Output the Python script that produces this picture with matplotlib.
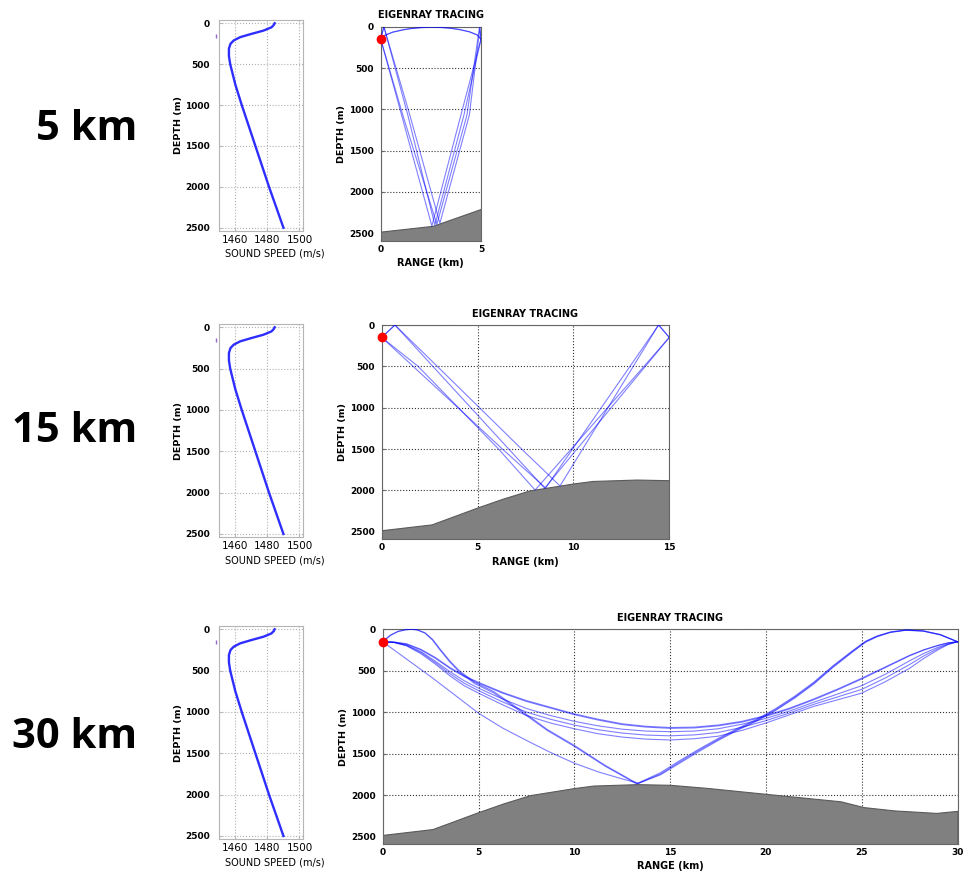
import matplotlib
matplotlib.use('Agg')
import matplotlib.pyplot as plt

W, H = 963, 876

# sound speed profile (same for all three cases)
ssp_depth = [0, 20, 50, 90, 130, 170, 210, 250, 310, 400, 500, 750, 1000, 1500, 2000, 2500]
ssp_speed = [1484.5, 1484, 1482.5, 1477.5, 1470, 1463, 1459, 1457, 1456, 1456, 1456.8, 1460, 1464, 1472.5, 1481, 1490]

# bathymetry along the 30 km track (the 5 / 15 km cases use the first part)
bathy_range = [0, 2.6, 5, 6.3, 7.7, 10, 11, 13.3, 15, 17, 20, 23.9, 25.1, 26.7, 28.9, 30]
bathy_depth = [2480, 2410, 2205, 2100, 2000, 1915, 1885, 1868, 1876, 1915, 1985, 2075, 2145, 2185, 2215, 2190]

src_depth = 150
max_range = [5, 15, 30]
panel_labels = ['5 km', '15 km', '30 km']

# eigenrays (range km, depth m)
arc5_range = [0, 0.2, 0.6, 1.1, 1.5, 2.0, 2.5, 3.0, 3.5, 3.9, 4.4, 4.8, 5.0]
rays_5km = [
    (arc5_range, [150, 108, 68, 40, 24, 12, 6, 10, 20, 35, 62, 100, 150]),
    (arc5_range, [150, 104, 64, 37, 21, 10, 5, 8, 18, 32, 58, 96, 150]),
    ([0, 1.04, 2.55, 4.0, 5.0], [150, 1068, 2412, 1068, 150]),
    ([0, 0.16, 1.35, 2.7, 4.15, 5.0], [150, 0, 1068, 2401, 1068, 150]),
    ([0, 1.1, 2.8, 4.3, 4.92, 5.0], [150, 1068, 2392, 1068, 10, 150]),
    ([0, 0.16, 1.45, 2.95, 4.42, 4.95, 5.0], [150, 0, 1068, 2379, 1068, 5, 150]),
]

rays_15km = [
    ([0, 1.9, 4.0, 6.1, 8.0, 9.88, 11.78, 13.68, 15.0],
     [150, 500, 1000, 1500, 1995, 1500, 1000, 500, 150]),
    ([0, 0.69, 2.67, 4.65, 6.63, 8.5, 10.18, 11.97, 13.75, 15.0],
     [150, 0, 500, 1000, 1500, 1972, 1500, 1000, 500, 150]),
    ([0, 1.64, 3.98, 6.3, 8.55, 9.95, 11.45, 12.95, 14.44, 15.0],
     [150, 500, 1000, 1500, 1970, 1500, 1000, 500, 0, 150]),
    ([0, 0.69, 2.9, 5.1, 7.3, 9.3, 10.48, 11.8, 13.12, 14.44, 15.0],
     [150, 0, 500, 1000, 1500, 1945, 1500, 1000, 500, 0, 150]),
]

# refracted rays through the deep channel
ref_range = [0, 0.6, 1.25, 2.0, 2.75, 3.5, 4.25, 5, 6.25, 7.5, 8.75, 10, 11.25, 12.5, 13.75,
             15, 16.25, 17.5, 18.75, 20, 21.25, 22.5, 23.75, 25, 26.25, 27.5, 28.25, 29, 29.5, 30]
ref_d1 = [150, 155, 180, 250, 350, 470, 570, 650, 770, 870, 950, 1030, 1095, 1150, 1180,
          1195, 1190, 1165, 1120, 1050, 960, 850, 730, 600, 460, 320, 250, 195, 165, 150]
ref_d2 = [150, 154, 175, 242, 340, 460, 560, 640, 760, 860, 940, 1020, 1085, 1140, 1170,
          1185, 1180, 1155, 1110, 1040, 950, 840, 720, 590, 452, 314, 246, 192, 163, 150]
ref_d3 = [150, 158, 190, 270, 385, 510, 620, 710, 840, 955, 1040, 1110, 1165, 1205, 1228,
          1235, 1228, 1200, 1145, 1075, 985, 880, 780, 680, 540, 380, 290, 215, 175, 150]
ref_d4 = [150, 159, 195, 282, 402, 535, 650, 740, 875, 998, 1085, 1155, 1212, 1252, 1276,
          1285, 1274, 1245, 1182, 1102, 1008, 905, 815, 725, 585, 425, 320, 230, 180, 150]
ref_d5 = [150, 160, 200, 295, 420, 560, 680, 770, 910, 1040, 1130, 1200, 1260, 1300, 1325,
          1335, 1320, 1290, 1220, 1130, 1030, 930, 850, 770, 630, 470, 350, 245, 185, 150]

# bottom-bounce rays touching the surface near both ends
bb_range_1 = [0, 0.4, 0.8, 1.2, 1.5, 1.8, 2.2, 2.6, 3.0, 3.5, 4.0, 4.8, 5.8, 6.6, 7.35, 8.6, 10.0, 11.6, 13.3,
              14.5, 15.5, 16.5, 17.5, 18.5, 19.5, 20.5, 21.5, 22.5, 23.5, 24.5, 25.2, 25.8, 26.5, 27.3, 28.2, 29.1, 30]
bb_depth_1 = [150, 75, 28, 6, 0, 6, 40, 120, 240, 380, 500, 640, 752, 880, 1000, 1210, 1400, 1640, 1862,
              1745, 1600, 1460, 1330, 1210, 1100, 970, 820, 650, 450, 270, 150, 85, 35, 10, 20, 65, 150]
bb_range_2 = [0, 0.4, 0.8, 1.2, 1.5, 1.8, 2.2, 2.6, 3.0, 3.5, 4.0, 4.8, 5.8, 6.6, 7.35, 8.6, 10.0, 11.6, 13.25,
              14.5, 15.5, 16.5, 17.5, 18.5, 19.5, 20.5, 21.5, 22.5, 23.5, 24.5, 25.2, 25.8, 26.5, 27.3, 28.2, 29.1, 30]
bb_depth_2 = [150, 70, 24, 4, 0, 8, 46, 130, 252, 394, 515, 655, 768, 895, 1015, 1222, 1412, 1650, 1864,
              1730, 1585, 1447, 1318, 1198, 1088, 958, 808, 638, 440, 262, 144, 80, 32, 8, 18, 62, 150]
# bottom-bounce ray leaving the source downward
bb_range_3 = [0, 1.25, 2.5, 3.75, 5, 6.25, 7.5, 8.75, 10, 11.25, 12.5, 13.35,
              14.5, 15.5, 16.5, 17.5, 18.5, 19.5, 20.5, 21.5, 22.5, 23.5, 24.5, 25.2, 25.8, 26.5, 27.3, 28.2, 29.1, 30]
bb_depth_3 = [150, 360, 570, 790, 1012, 1190, 1340, 1485, 1615, 1720, 1805, 1858,
              1755, 1615, 1475, 1342, 1220, 1110, 980, 830, 660, 460, 278, 156, 90, 38, 12, 22, 68, 150]

rays_30km = [
    (ref_range, ref_d1), (ref_range, ref_d2), (ref_range, ref_d3),
    (ref_range, ref_d4), (ref_range, ref_d5),
    (bb_range_1, bb_depth_1), (bb_range_2, bb_depth_2), (bb_range_3, bb_depth_3),
]
all_rays = [rays_5km, rays_15km, rays_30km]

# axes boxes in pixels: left, top, right, bottom
ssp_boxes = [(219.3, 20, 302.7, 231), (219.3, 324, 302.7, 537.3), (219.3, 626, 302.7, 839.3)]
ray_boxes = [(380.7, 26.7, 481, 240.7), (381.7, 325, 669.3, 539.3), (382.7, 629.3, 957.5, 844)]
label_y = [130, 432, 737]


def px_box(l, t, r, b):
    return [l / W, 1 - b / H, (r - l) / W, (b - t) / H]


fig = plt.figure(figsize=(W / 100, H / 100), dpi=100)

for i in range(3):
    # big case label
    fig.text(137 / W, 1 - label_y[i] / H, panel_labels[i], ha='right', va='center',
             fontsize=30, fontweight='bold', family=['Open Sans', 'DejaVu Sans'])

    # sound speed profile
    ax = fig.add_axes(px_box(*ssp_boxes[i]))
    ax.plot(ssp_speed, ssp_depth, color='#2e2eff', lw=1.7)
    ax.plot([1448], [src_depth], marker='|', ms=3, color='#9966cc', clip_on=False)
    ax.set_xlim(1450, 1502)
    ax.set_ylim(2540, -40)
    ax.set_xticks([1460, 1480, 1500])
    ax.set_yticks([0, 500, 1000, 1500, 2000, 2500])
    ax.grid(True, color='#b0b0b0', ls=':', lw=0.8)
    ax.set_axisbelow(True)
    for s in ax.spines.values():
        s.set_color('#b5b5b5')
    ax.tick_params(direction='in', length=2, color='#b5b5b5')
    ax.tick_params(axis='y', pad=7, labelsize=6.5)
    ax.tick_params(axis='x', pad=3, labelsize=7.5)
    for t in ax.get_yticklabels():
        t.set_fontweight('bold')
    ax.set_ylabel('DEPTH (m)', fontsize=6.8, fontweight='bold', labelpad=1)
    ax.set_xlabel('SOUND SPEED (m/s)', fontsize=7)
    ax.xaxis.set_label_coords(0.66, -0.085)

    # eigenray tracing
    ax = fig.add_axes(px_box(*ray_boxes[i]))
    ax.fill_between(bathy_range, bathy_depth, 2600, facecolor='#808080',
                    edgecolor='#5a5a5a', lw=0.8, zorder=2)
    for rr, dd in all_rays[i]:
        ax.plot(rr, dd, color='#0000ff', lw=0.8, alpha=0.5, zorder=3)
    ax.plot([0], [src_depth], 'o', color='#ff0000', ms=6, clip_on=False, zorder=5)
    ax.set_xlim(0, max_range[i])
    ax.set_ylim(2590, 0)
    ax.set_xticks(list(range(0, max_range[i] + 1, 5)))
    ax.set_yticks([0, 500, 1000, 1500, 2000, 2500])
    ax.grid(True, color='#333333', ls=':', lw=0.8)
    ax.set_axisbelow(True)
    for s in ax.spines.values():
        s.set_color('#666666')
    ax.tick_params(direction='in', length=2, color='#666666', labelsize=6.5)
    ax.tick_params(axis='y', pad=5)
    ax.tick_params(axis='x', pad=3)
    for t in ax.get_yticklabels() + ax.get_xticklabels():
        t.set_fontweight('bold')
    ax.set_title('EIGENRAY TRACING', fontsize=7, fontweight='bold', pad=6)
    ax.set_ylabel('DEPTH (m)', fontsize=6.8, fontweight='bold', labelpad=2)
    ax.set_xlabel('RANGE (km)', fontsize=7, fontweight='bold', labelpad=3)

plt.savefig('out.png', dpi=100)
plt.close()
